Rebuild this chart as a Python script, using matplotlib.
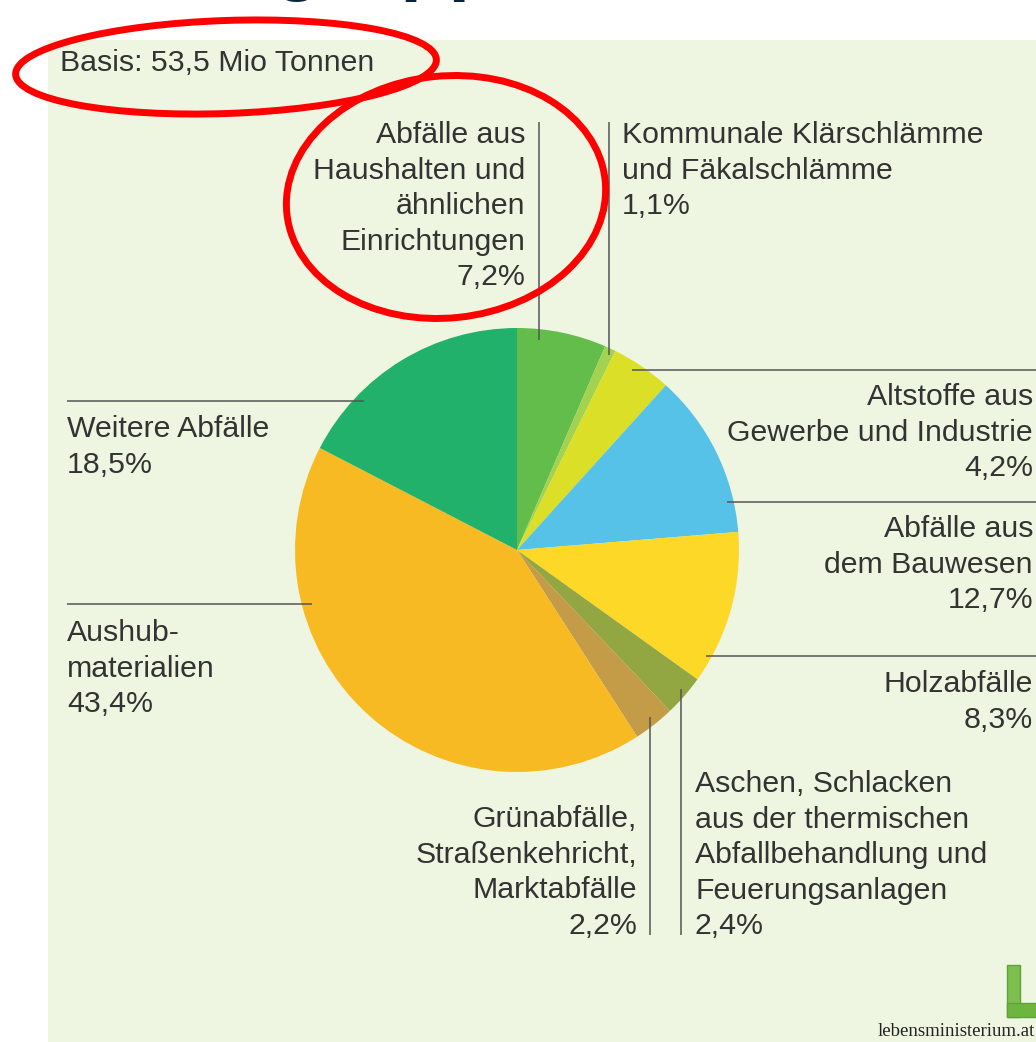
import matplotlib.pyplot as plt
from matplotlib.patches import Rectangle, Ellipse

# Slice shares as drawn in the picture (clockwise from 12 o'clock)
categories = [
    "Abfälle aus\nHaushalten und\nähnlichen\nEinrichtungen",
    "Kommunale Klärschlämme\nund Fäkalschlämme",
    "Altstoffe aus\nGewerbe und Industrie",
    "Abfälle aus\ndem Bauwesen",
    "Holzabfälle",
    "Aschen, Schlacken\naus der thermischen\nAbfallbehandlung und\nFeuerungsanlagen",
    "Grünabfälle,\nStraßenkehricht,\nMarktabfälle",
    "Aushub-\nmaterialien",
    "Weitere Abfälle",
]
shares = [6.5, 0.8, 4.4, 12.0, 11.2, 3.0, 3.0, 41.7, 17.4]
pct_labels = ["7,2%", "1,1%", "4,2%", "12,7%", "8,3%", "2,4%", "2,2%", "43,4%", "18,5%"]
colors = ["#62BD4B", "#A3D250", "#DBDF27", "#56C2E7", "#FDD827",
          "#92A642", "#C49B46", "#F8BA23", "#22B16A"]

basis_text = "Basis: 53,5 Mio Tonnen"

# label placement: x, first baseline (pixels), alignment
label_pos = [
    (525, 143, "right"),
    (622, 143, "left"),
    (1033, 405, "right"),
    (1033, 537, "right"),
    (1033, 692, "right"),
    (695, 792, "left"),
    (637, 827, "right"),
    (67, 641, "left"),
    (67, 437, "left"),
]
# leader lines (x0, y0, x1, y1) in pixels
leaders = [
    (539, 122, 539, 340),
    (609, 122, 609, 355),
    (632, 370, 1036, 370),
    (727, 502, 1036, 502),
    (706, 656, 1036, 656),
    (681, 689, 681, 935),
    (650, 717, 650, 935),
    (67, 604, 312, 604),
    (67, 401, 364, 401),
]

plt.rcParams["font.family"] = ["Liberation Sans", "DejaVu Sans"]
text_color = "#333333"
fs = 21.8
pitch = 35.6

fig = plt.figure(figsize=(10.36, 10.42), dpi=100)
fig.patch.set_facecolor("white")
ax = fig.add_axes([0, 0, 1, 1])

# light green panel
ax.add_patch(Rectangle((48, 40), 988, 1002, facecolor="#EEF6E1", edgecolor="none", zorder=0))

ax.pie(shares, colors=colors, startangle=-90, counterclock=True,
       center=(517, 550), radius=222, frame=True,
       wedgeprops=dict(linewidth=0, antialiased=True))

for x0, y0, x1, y1 in leaders:
    ax.plot([x0, x1], [y0, y1], color="#555555", lw=1.1, solid_capstyle="butt", zorder=3)

for name, pct, (x, y, ha) in zip(categories, pct_labels, label_pos):
    lines = name.split("\n") + [pct]
    for i, line in enumerate(lines):
        ax.text(x, y + i * pitch, line, fontsize=fs, color=text_color,
                ha=ha, va="baseline", zorder=4)

ax.text(60, 71, basis_text, fontsize=fs, color=text_color, ha="left", va="baseline", zorder=4)

# title, mostly cut off above the image
ax.text(55, -14.5, "Abfallgruppen", fontsize=56.6, weight="bold", color="#0B2343",
        ha="left", va="baseline", clip_on=False, zorder=4)

# logo
ax.add_patch(Rectangle((1007, 965), 13, 52, facecolor="#7DBF4E", edgecolor="#5FA23A", lw=1, zorder=2))
ax.add_patch(Rectangle((1007, 1003), 30, 14, facecolor="#6DB53F", edgecolor="#5FA23A", lw=1, zorder=2))
ax.text(1035, 1036, "lebensministerium.at", fontsize=13.5, family="Liberation Serif",
        color="#222222", ha="right", va="baseline", zorder=4)

# red hand-drawn highlights
ax.add_patch(Ellipse((226, 67), 421, 93, angle=-2, fill=False, edgecolor="#FF0000", lw=5, zorder=6))
ax.add_patch(Ellipse((446, 197), 320, 242, angle=-6, fill=False, edgecolor="#FF0000", lw=5, zorder=6))

ax.set_xlim(0, 1036)
ax.set_ylim(1042, 0)
ax.axis("off")

fig.savefig("out.png", dpi=100)
